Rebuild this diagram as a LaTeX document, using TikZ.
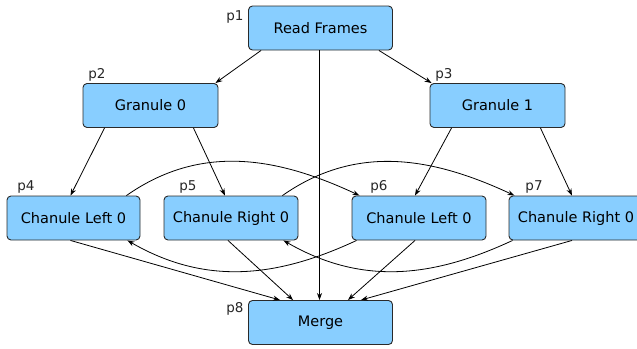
\documentclass[tikz,border=0pt]{standalone}
\usepackage{fontspec}
\setmainfont{DejaVu Sans}
\usetikzlibrary{arrows.meta}
\definecolor{boxfill}{HTML}{88CEFF}
\definecolor{boxline}{HTML}{2A2A2A}
\tikzset{
  proc/.style={draw=boxline, fill=boxfill, rounded corners=4pt, line width=0.9pt,
    minimum height=44pt, inner sep=0pt, font=\fontsize{14.5}{16}\selectfont},
  tag/.style={font=\fontsize{13.5}{15}\selectfont, inner sep=0pt, text=black!85},
  link/.style={line width=0.8pt, -{Stealth[length=7pt,width=5pt]}}
}
\begin{document}
\begin{tikzpicture}[x=1pt,y=-1pt]
\useasboundingbox (0,0) rectangle (637,348);
% process boxes
\node[proc, minimum width=144pt] (p1) at (320.5,28) {Read Frames};
\node[proc, minimum width=135pt] (p2) at (150.5,105.5) {Granule 0};
\node[proc, minimum width=135pt] (p3) at (497.5,105.5) {Granule 1};
\node[proc, minimum width=133pt] (p4) at (73.5,218) {Chanule Left 0};
\node[proc, minimum width=134pt] (p5) at (231,218) {Chanule Right 0};
\node[proc, minimum width=134pt] (p6) at (419,218) {Chanule Left 0};
\node[proc, minimum width=134pt] (p7) at (576,218) {Chanule Right 0};
\node[proc, minimum width=144pt] (p8) at (320.5,322.5) {Merge};
% process tags
\node[tag] (t1) at (235,17) {p1};
\node[tag] (t2) at (97,75) {p2};
\node[tag] (t3) at (444,75) {p3};
\node[tag] (t4) at (26,187) {p4};
\node[tag] (t5) at (188,187) {p5};
\node[tag] (t6) at (379,187) {p6};
\node[tag] (t7) at (534,187) {p7};
\node[tag] (t8) at (235,309) {p8};
% fan out from the reader
\draw[link] ([xshift=13pt]p1.south west) -- ([xshift=-3pt]p2.north east);
\draw[link] ([xshift=-14pt]p1.south east) -- ([xshift=2pt]p3.north west);
\draw[link] ([xshift=-1pt]p1.south) -- ([xshift=-1pt]p8.north);
% granules to channels
\draw[link] ([xshift=22pt]p2.south west) -- ([xshift=-3pt]p4.north);
\draw[link] ([xshift=-25pt]p2.south east) -- ([xshift=-6pt]p5.north);
\draw[link] ([xshift=22pt]p3.south west) -- ([xshift=-4pt]p6.north);
\draw[link] ([xshift=-25pt]p3.south east) -- ([xshift=-4pt]p7.north);
% exchanges between the two granules
\draw[link] ([xshift=-14pt]p4.north east) to[out=35,in=155] ([xshift=8pt]p6.north west);
\draw[link] ([xshift=-16pt]p5.north east) to[out=35,in=155] ([xshift=6pt]p7.north west);
\draw[link] ([xshift=5pt]p6.south west) to[out=205,in=-30] ([xshift=-13pt]p4.south east);
\draw[link] ([xshift=4pt]p7.south west) to[out=205,in=-30] ([xshift=-15pt]p5.south east);
% channels into the merge
\draw[link] ([xshift=-3pt]p4.south) -- ([xshift=32pt]p8.north west);
\draw[link] ([xshift=-3pt]p5.south) -- ([xshift=45pt]p8.north west);
\draw[link] ([xshift=-4pt]p6.south) -- ([xshift=-45pt]p8.north east);
\draw[link] ([xshift=-4pt]p7.south) -- ([xshift=-32pt]p8.north east);
\end{tikzpicture}
\end{document}
